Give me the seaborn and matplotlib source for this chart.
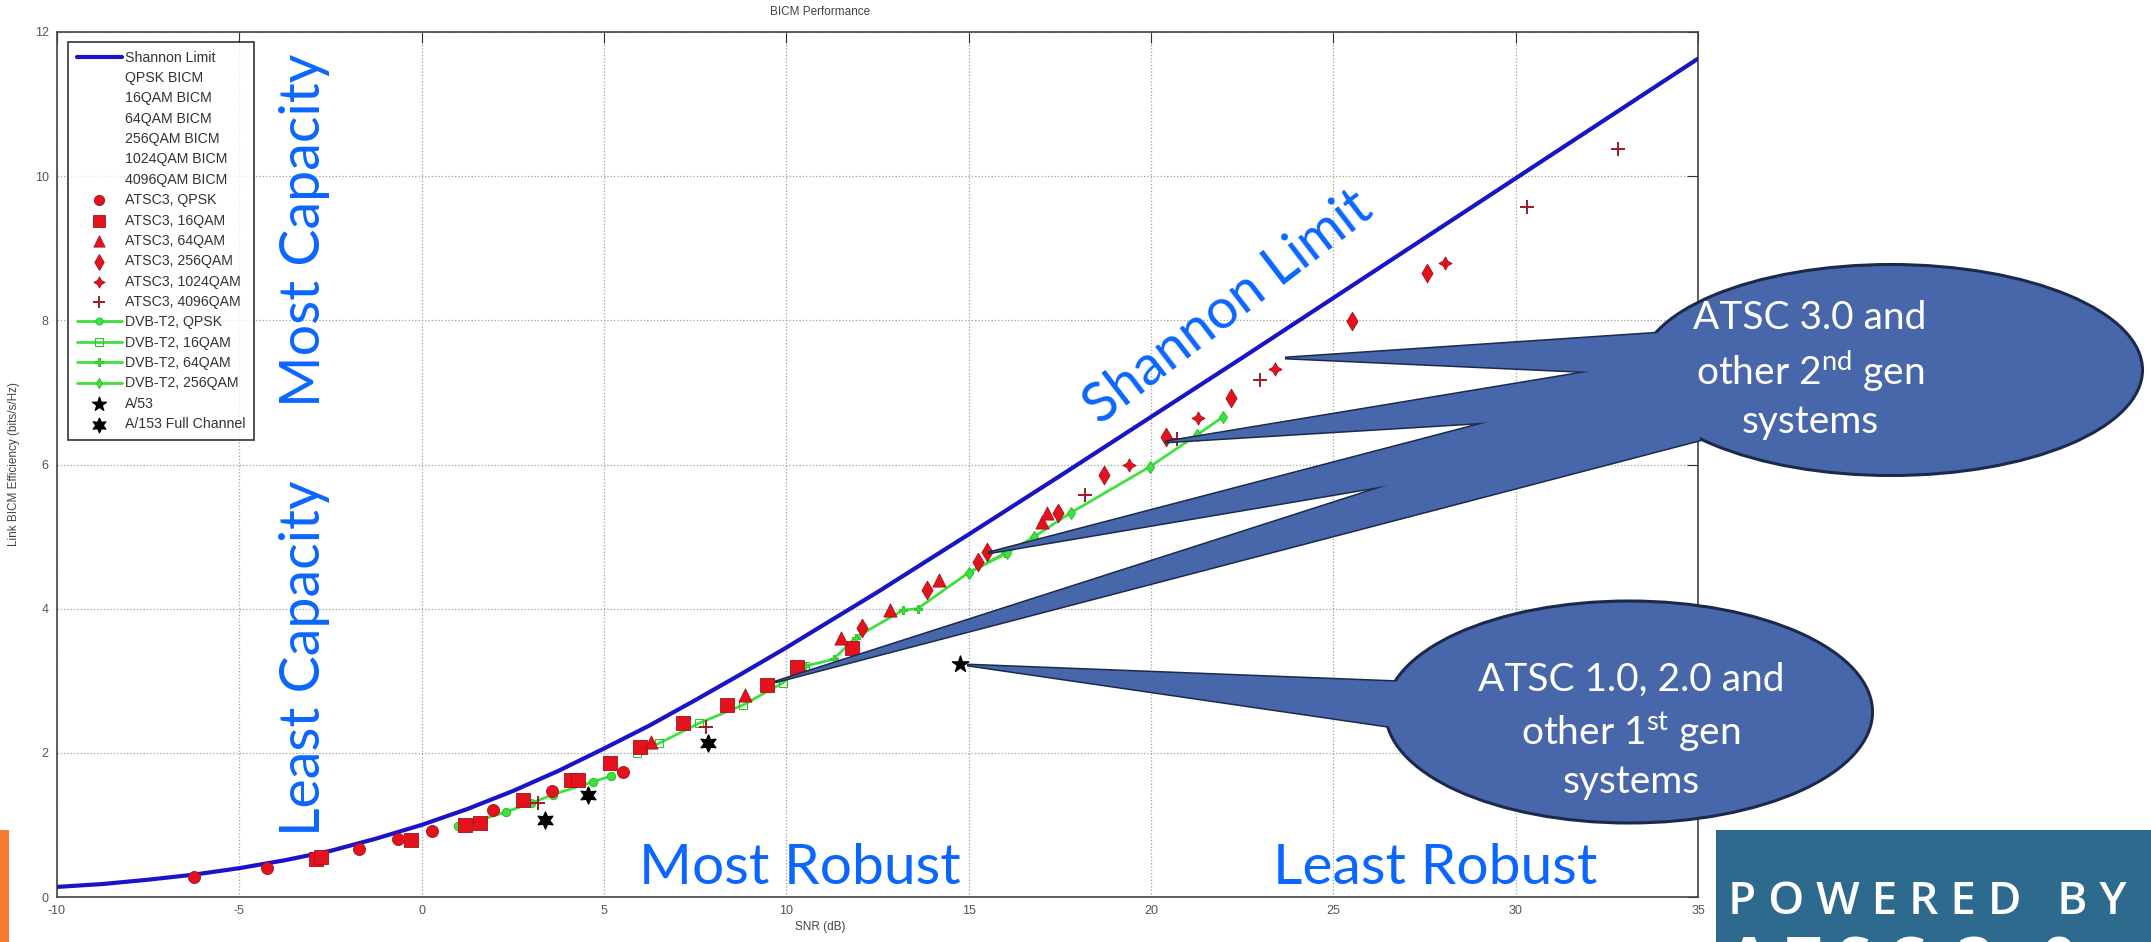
import numpy as np
import pandas as pd
import matplotlib
matplotlib.use("Agg")
import matplotlib.pyplot as plt
import seaborn as sns
from matplotlib.lines import Line2D
from matplotlib.patches import Ellipse, Polygon, Rectangle

# ---- data ----
shannon_snr = [-10, -8.75, -7.5, -6.25, -5, -3.75, -2.5, -1.25, 0, 1.25, 2.5, 3.75, 5, 6.25,
               7.5, 8.75, 10, 12.5, 15, 17.5, 20, 22.5, 25, 27.5, 30, 32.5, 35]
shannon_eff = [0.14, 0.18, 0.24, 0.31, 0.40, 0.51, 0.64, 0.81, 1.0, 1.22, 1.47, 1.75, 2.06, 2.38,
               2.73, 3.09, 3.46, 4.23, 5.03, 5.84, 6.66, 7.48, 8.31, 9.14, 9.97, 10.80, 11.63]

atsc_qpsk_x = [-6.24, -4.25, -1.72, -0.65, 0.28, 1.95, 3.57, 5.52]
atsc_qpsk_y = [0.28, 0.40, 0.66, 0.80, 0.92, 1.21, 1.47, 1.73]
atsc_16qam_x = [-2.9, -2.75, -0.3, 1.2, 1.6, 2.77, 4.1, 4.3, 5.16, 6.0, 7.17, 8.37, 9.47, 10.3, 11.8]
atsc_16qam_y = [0.53, 0.55, 0.79, 1.0, 1.03, 1.35, 1.62, 1.62, 1.86, 2.08, 2.41, 2.66, 2.94, 3.19, 3.45]
atsc_64qam_x = [6.3, 8.86, 11.5, 12.84, 14.2, 17.0, 17.15]
atsc_64qam_y = [2.15, 2.8, 3.6, 3.98, 4.40, 5.2, 5.33]
atsc_256qam_x = [12.07, 13.85, 15.25, 15.5, 17.45, 18.7, 20.4, 22.2, 25.5, 27.57]
atsc_256qam_y = [3.73, 4.26, 4.65, 4.79, 5.33, 5.85, 6.38, 6.92, 7.99, 8.65]
atsc_1024qam_x = [19.4, 21.3, 23.4, 28.06]
atsc_1024qam_y = [6.0, 6.64, 7.32, 8.79]
atsc_4096qam_x = [3.2, 7.8, 18.2, 20.7, 22.98, 30.3, 32.8]
atsc_4096qam_y = [1.3, 2.36, 5.58, 6.35, 7.17, 9.57, 10.37]

dvb_qpsk_x = [1.0, 1.5, 2.3, 3.0, 3.6, 4.7, 5.2]
dvb_qpsk_y = [0.98, 1.05, 1.18, 1.30, 1.42, 1.60, 1.68]
dvb_16qam_x = [5.9, 6.5, 7.6, 8.8, 9.9, 10.5]
dvb_16qam_y = [2.0, 2.13, 2.41, 2.66, 2.97, 3.2]
dvb_64qam_x = [10.5, 11.3, 11.9, 13.2, 13.6, 15.0, 16.0]
dvb_64qam_y = [3.2, 3.3, 3.6, 3.98, 4.0, 4.5, 4.77]
dvb_256qam_x = [15.0, 16.05, 16.8, 17.8, 19.97, 21.26, 21.97]
dvb_256qam_y = [4.5, 4.77, 5.0, 5.33, 5.97, 6.41, 6.66]

a53_x = [14.76]
a53_y = [3.23]
a153_x = [3.38, 4.56, 7.85]
a153_y = [1.07, 1.41, 2.13]

bicm_labels = ["QPSK BICM", "16QAM BICM", "64QAM BICM", "256QAM BICM", "1024QAM BICM", "4096QAM BICM"]
x_ticks = [-10, -5, 0, 5, 10, 15, 20, 25, 30, 35]
y_ticks = [0, 2, 4, 6, 8, 10, 12]

# ---- style ----
sns.set_style("white")
plt.rcParams["font.family"] = ["Lato", "DejaVu Sans"]
plt.rcParams["axes.unicode_minus"] = False
plt.rcParams["mathtext.fontset"] = "custom"
plt.rcParams["mathtext.rm"] = "Lato"
plt.rcParams["mathtext.it"] = "Lato:italic"

W, H = 2151, 942
fig = plt.figure(figsize=(W / 100, H / 100), dpi=100)
fig.patch.set_facecolor("white")

def fx(px):
    return px / W

def fy(py):
    return 1 - py / H

ax_l, ax_r, ax_t, ax_b = 57, 1698, 32, 897
ax = fig.add_axes([fx(ax_l), fy(ax_b), fx(ax_r - ax_l), (ax_b - ax_t) / H])

RED = "#e3121d"
RED_EDGE = "#a8101a"
GREEN = "#3fe03f"
BLUE = "#1a14c8"

sns.lineplot(x=shannon_snr, y=shannon_eff, color=BLUE, lw=3, label="Shannon Limit", ax=ax, zorder=3)

sc = dict(color=RED, edgecolor=RED_EDGE, linewidth=0.6, ax=ax, zorder=5)
sns.scatterplot(x=atsc_qpsk_x, y=atsc_qpsk_y, marker="o", s=75, label="ATSC3, QPSK", **sc)
sns.scatterplot(x=atsc_16qam_x, y=atsc_16qam_y, marker="s", s=90, label="ATSC3, 16QAM", **sc)
sns.scatterplot(x=atsc_64qam_x, y=atsc_64qam_y, marker="^", s=90, label="ATSC3, 64QAM", **sc)
sns.scatterplot(x=atsc_256qam_x, y=atsc_256qam_y, marker="d", s=90, label="ATSC3, 256QAM", **sc)
sns.scatterplot(x=atsc_1024qam_x, y=atsc_1024qam_y, marker=(4, 1, 0), s=90, label="ATSC3, 1024QAM", **sc)
sns.scatterplot(x=atsc_4096qam_x, y=atsc_4096qam_y, marker="+", s=90, color="#a01828",
                linewidth=1.4, label="ATSC3, 4096QAM", ax=ax, zorder=5)

ln = dict(color=GREEN, lw=2, markersize=6, markeredgecolor="#2cc42c", ax=ax, zorder=4, sort=False)
sns.lineplot(x=dvb_qpsk_x, y=dvb_qpsk_y, marker="o", label="DVB-T2, QPSK", **ln)
sns.lineplot(x=dvb_16qam_x, y=dvb_16qam_y, marker="s", markerfacecolor="none", label="DVB-T2, 16QAM", **ln)
sns.lineplot(x=dvb_64qam_x, y=dvb_64qam_y, marker="P", label="DVB-T2, 64QAM", **ln)
sns.lineplot(x=dvb_256qam_x, y=dvb_256qam_y, marker="d", label="DVB-T2, 256QAM", **ln)

sns.scatterplot(x=a53_x, y=a53_y, marker="*", s=150, color="black", edgecolor="black",
                label="A/53", ax=ax, zorder=6)
sns.scatterplot(x=a153_x, y=a153_y, marker=(6, 1, 0), s=150, color="black", edgecolor="black",
                label="A/153 Full Channel", ax=ax, zorder=6)

ax.set_xlim(-10, 35)
ax.set_ylim(0, 12)
ax.set_xticks(x_ticks)
ax.set_yticks(y_ticks)
ax.grid(True, linestyle=":", color="#a0a0a0", lw=0.9)
ax.tick_params(direction="in", length=8, top=True, right=True, labelsize=9,
               labelcolor="#555555", color="#333333", pad=6)
for s in ax.spines.values():
    s.set_color("#444444")
    s.set_linewidth(1.2)
ax.set_xlabel("")
ax.set_ylabel("")
for lab in ax.get_xticklabels() + ax.get_yticklabels():
    lab.set_family(["Liberation Sans", "DejaVu Sans"])

# legend: invisible BICM entries after the Shannon line
handles, labels = ax.get_legend_handles_labels()
bicm_handles = [Line2D([], [], color="white", lw=1) for _ in bicm_labels]
handles = handles[:1] + bicm_handles + handles[1:]
labels = labels[:1] + bicm_labels + labels[1:]
leg = ax.legend(handles, labels, loc="upper left", bbox_to_anchor=(11 / 1641, 1 - 10 / 865),
                borderaxespad=0, frameon=True, fancybox=False, edgecolor="black",
                prop={"family": "Liberation Sans", "size": 10.2}, labelspacing=0.45,
                handlelength=3.2, handletextpad=0.25, borderpad=0.6, markerscale=0.85)
leg.get_frame().set_linewidth(1.2)
for t in leg.get_texts():
    t.set_color("#333333")

grey = "#444444"
fig.text(fx(820), fy(12), "BICM Performance", ha="center", va="center", fontsize=8.5,
         color=grey, family="Liberation Sans")
fig.text(fx(820), fy(927), "SNR (dB)", ha="center", va="center", fontsize=8.5,
         color=grey, family="Liberation Sans")
fig.text(fx(14), fy(464), "Link BICM Efficiency (bits/s/Hz)", ha="center", va="center",
         rotation=90, fontsize=8.5, color=grey, family="Liberation Sans")

# ---- slide overlay in pixel coordinates ----
ov = fig.add_axes([0, 0, 1, 1], zorder=10)
ov.set_xlim(0, W)
ov.set_ylim(H, 0)
ov.axis("off")
ov.patch.set_alpha(0)

ov.add_patch(Rectangle((0, 830), 9, 112, color="#f47c30", lw=0))

BLUE_TXT = "#0a66ff"
ov.text(305, 230, "Most Capacity", rotation=90, ha="center", va="center", fontsize=40, color=BLUE_TXT)
ov.text(305, 658, "Least Capacity", rotation=90, ha="center", va="center", fontsize=40, color=BLUE_TXT)
ov.text(800, 868, "Most Robust", ha="center", va="center", fontsize=41, color=BLUE_TXT)
ov.text(1435, 868, "Least Robust", ha="center", va="center", fontsize=41, color=BLUE_TXT)
ov.text(1228, 308, "Shannon Limit", rotation=37.5, rotation_mode="anchor", ha="center", va="center",
        fontsize=40, color=BLUE_TXT)

FILL = "#4867ab"
EDGE = "#1b2a4c"
# upper callout
wedges_top = [
    [(1285, 358), (1660, 333), (1660, 375)],
    [(1165, 442), (1660, 360), (1660, 412)],
    [(988, 553), (1680, 372), (1680, 436)],
    [(775, 682), (1700, 385), (1700, 440)],
]
for wpts in wedges_top:
    ov.add_patch(Polygon(wpts, closed=True, fc=FILL, ec=EDGE, lw=2.2, zorder=1))
ov.add_patch(Ellipse((1891, 370), 503, 211, fc=FILL, ec=EDGE, lw=2.2, zorder=2))
for wpts in wedges_top:
    ov.add_patch(Polygon(wpts, closed=True, fc=FILL, ec="none", lw=0, zorder=3))
ov.text(1810, 370, "ATSC 3.0 and\nother 2$^{\\rm nd}$ gen\nsystems", ha="center", va="center",
        fontsize=28, color="white", linespacing=1.35, zorder=4)

# lower callout
w2 = [(967, 665), (1430, 683), (1400, 728)]
ov.add_patch(Polygon(w2, closed=True, fc=FILL, ec=EDGE, lw=2.2, zorder=1))
ov.add_patch(Ellipse((1629, 712), 487, 222, fc=FILL, ec=EDGE, lw=2.2, zorder=2))
ov.add_patch(Polygon(w2, closed=True, fc=FILL, ec="none", lw=0, zorder=3))
ov.text(1631, 731, "ATSC 1.0, 2.0 and\nother 1$^{\\rm st}$ gen\nsystems", ha="center", va="center",
        fontsize=28, color="white", linespacing=1.35, zorder=4)

# logo
ov.add_patch(Rectangle((1716, 830), W - 1716, H - 830, color="#2d6a8e", lw=0, zorder=5))
ov.text(1728, 903, "P O W E R E D   B Y", ha="left", va="center", fontsize=33, color="white",
        family="Open Sans", fontweight="semibold", zorder=6)
ov.text(1728, 936, "A T S C  3 . 0", ha="left", va="top", fontsize=44, color="white",
        family="Open Sans", fontweight="bold", zorder=6)

fig.savefig("out.png", dpi=100)
